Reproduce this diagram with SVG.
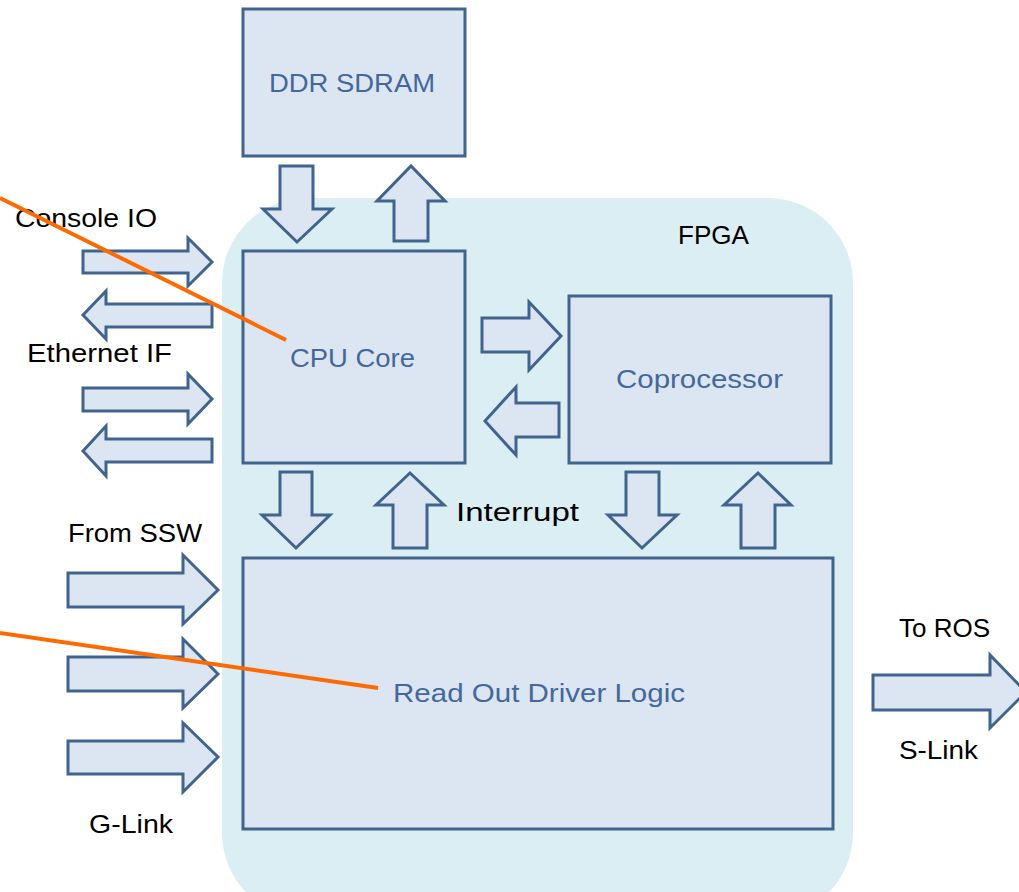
<svg xmlns="http://www.w3.org/2000/svg" width="1019" height="892" viewBox="0 0 1019 892">
  <style>
    .fpga { fill: #daeef3; stroke: none; }
    .box { fill: #dce6f2; stroke: #41648f; stroke-width: 3; }
    .arr { fill: #dce6f2; stroke: #41648f; stroke-width: 3; stroke-linejoin: miter; }
    .lbl { font-family: "Liberation Sans", Arial, sans-serif; font-size: 26px; fill: #000000; }
    .blbl { font-family: "Liberation Sans", Arial, sans-serif; font-size: 26px; fill: #44689c; }
    .ptr { stroke: #fd6a02; stroke-width: 4; fill: none; }
  </style>
  <rect width="1019" height="892" fill="#ffffff"/>

  <g id="fpga">
    <rect class="fpga" x="222" y="198" width="631" height="720" rx="85" ry="85"/>
    <text class="lbl" x="678" y="244" textLength="71" lengthAdjust="spacingAndGlyphs">FPGA</text>
  </g>

  <g id="ddr-sdram">
    <rect class="box" x="243" y="9" width="222" height="147"/>
    <text class="blbl" x="269" y="92" textLength="166" lengthAdjust="spacingAndGlyphs">DDR SDRAM</text>
  </g>

  <g id="cpu-core">
    <rect class="box" x="243" y="251" width="222" height="212"/>
    <text class="blbl" x="290" y="367" textLength="125" lengthAdjust="spacingAndGlyphs">CPU Core</text>
  </g>

  <g id="coprocessor">
    <rect class="box" x="569" y="296" width="262" height="167"/>
    <text class="blbl" x="616" y="388" textLength="167" lengthAdjust="spacingAndGlyphs">Coprocessor</text>
  </g>

  <g id="read-out-driver-logic">
    <rect class="box" x="243" y="558" width="590" height="271"/>
    <text class="blbl" x="393" y="702" textLength="292" lengthAdjust="spacingAndGlyphs">Read Out Driver Logic</text>
  </g>

  <g id="labels">
    <text class="lbl" x="15" y="227" textLength="142" lengthAdjust="spacingAndGlyphs">Console IO</text>
    <text class="lbl" x="27" y="362" textLength="145" lengthAdjust="spacingAndGlyphs">Ethernet IF</text>
    <text class="lbl" x="68" y="542" textLength="134" lengthAdjust="spacingAndGlyphs">From SSW</text>
    <text class="lbl" x="89" y="833" textLength="84" lengthAdjust="spacingAndGlyphs">G-Link</text>
    <text class="lbl" x="456" y="521" textLength="123" lengthAdjust="spacingAndGlyphs">Interrupt</text>
    <text class="lbl" x="899" y="637" textLength="91" lengthAdjust="spacingAndGlyphs">To ROS</text>
    <text class="lbl" x="899" y="759" textLength="79" lengthAdjust="spacingAndGlyphs">S-Link</text>
  </g>

  <g id="connectors">
    <!-- Console IO -->
    <polygon class="arr" points="83,251 188,251 188,238 212,262 188,286 188,273 83,273"/>
    <polygon class="arr" points="212,304 106,304 106,291 83,315 106,339 106,327 212,327"/>
    <!-- Ethernet IF -->
    <polygon class="arr" points="83,388 188,388 188,374 212,399 188,424 188,411 83,411"/>
    <polygon class="arr" points="212,439 106,439 106,426 83,451 106,476 106,462 212,462"/>
    <!-- DDR <-> CPU -->
    <polygon class="arr" points="280,166 313,166 313,209 332,209 297,242 263,209 280,209"/>
    <polygon class="arr" points="394,241 428,241 428,201 445,201 411,166 377,201 394,201"/>
    <!-- CPU <-> Coprocessor -->
    <polygon class="arr" points="482,318 529,318 529,302 561,336 529,370 529,352 482,352"/>
    <polygon class="arr" points="559,403 516,403 516,387 485,421 516,455 516,437 559,437"/>
    <!-- CPU <-> ROD -->
    <polygon class="arr" points="280,472 312,472 312,515 330,515 296,548 262,515 280,515"/>
    <polygon class="arr" points="393,548 427,548 427,505 444,505 410,473 376,505 393,505"/>
    <!-- Coprocessor <-> ROD -->
    <polygon class="arr" points="626,472 659,472 659,515 677,515 642,548 608,515 626,515"/>
    <polygon class="arr" points="741,548 775,548 775,505 791,505 758,473 724,505 741,505"/>
    <!-- From SSW / G-Link -->
    <polygon class="arr" points="68,573 183,573 183,555 218,590 183,624 183,607 68,607"/>
    <polygon class="arr" points="68,657 183,657 183,639 218,674 183,708 183,691 68,691"/>
    <polygon class="arr" points="68,741 183,741 183,723 218,757 183,792 183,774 68,774"/>
    <!-- To ROS / S-Link -->
    <polygon class="arr" points="873,675 990,675 990,655 1026,692 990,728 990,710 873,710"/>
  </g>

  <g id="pointers">
    <line class="ptr" x1="0" y1="198" x2="286" y2="340"/>
    <line class="ptr" x1="0" y1="633" x2="378" y2="688"/>
  </g>
</svg>
